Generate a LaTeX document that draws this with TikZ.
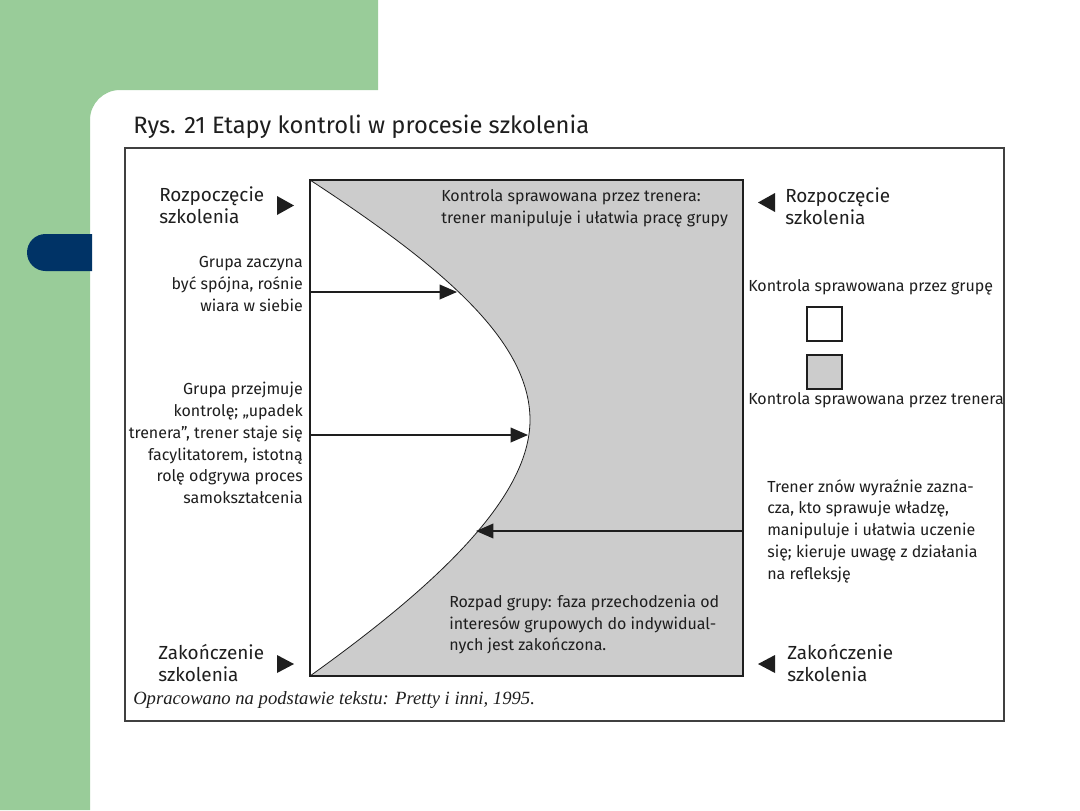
\documentclass[tikz,border=0pt]{standalone}
\usepackage{fontspec}
\setmainfont{Fira Sans}
\newfontfamily\footfont{Liberation Serif}
\usetikzlibrary{arrows.meta}
\definecolor{bggreen}{RGB}{153,204,153}
\definecolor{navy}{RGB}{0,51,102}
\definecolor{greyfill}{RGB}{204,204,204}
\definecolor{ink}{RGB}{30,30,30}
\begin{document}
\begin{tikzpicture}[x=0.75pt,y=-0.75pt,
  lbl/.style={inner sep=0pt, text=ink},
  big/.style={lbl, align=left, font={\fontsize{14.2}{16.5}\selectfont}},
  small/.style={lbl, font={\fontsize{12}{16.3}\selectfont}},
  arr/.style={ink, line width=1.1pt, -{Triangle[length=13pt,width=11pt]}},
  tri/.style={fill=ink, draw=none}]
\useasboundingbox (0,0) rectangle (1080,810);
\fill[white] (0,0) rectangle (1080,810);
% background decoration
\fill[bggreen] (0,0) -- (378,0) -- (378,90) -- (120,90) arc[start angle=-90,end angle=-180,radius=30] -- (90,810) -- (0,810) -- cycle;
\fill[navy] (92,234) -- (45.5,234) arc[start angle=-90,end angle=-270,radius=18.5] -- (92,271) -- cycle;
% title
\node[lbl, anchor=base west, font={\fontsize{17.8}{20}\selectfont}] (title) at (133,133) {Rys. 21 Etapy kontroli w procesie szkolenia};
% frame
\draw[ink!85, line width=1.5pt] (125,148) rectangle (1004,721);
% inner diagram
\fill[greyfill] (310,180) rectangle (743,676);
\fill[white] (310,180) .. controls (440,265) and (530,340) .. (530,420) .. controls (530,500) and (430,590) .. (310,676) -- cycle;
\draw[ink, line width=0.6pt] (310,180) .. controls (440,265) and (530,340) .. (530,420) .. controls (530,500) and (430,590) .. (310,676);
\draw[ink, line width=1.1pt] (310,180) rectangle (743,676);
% coordinates
\coordinate (a1) at (310,292);
\coordinate (c1) at (457,292);
\coordinate (a2) at (310,435);
\coordinate (c2) at (528,435);
\coordinate (a3) at (743,531);
\coordinate (c3) at (476,531);
\draw[arr] (a1) -- (c1);
\draw[arr] (a2) -- (c2);
\draw[arr] (a3) -- (c3);
% marker triangles
\fill[tri] (277,196) -- (294,205.5) -- (277,215) -- cycle;
\fill[tri] (775,193) -- (758,202.5) -- (775,212) -- cycle;
\fill[tri] (277,655) -- (294,664) -- (277,673) -- cycle;
\fill[tri] (775,655) -- (758,664) -- (775,673) -- cycle;
% labels
\node[big, anchor=west] (startL) at (159,205) {Rozpoczęcie\\szkolenia};
\node[big, anchor=west] (startR) at (785,206.5) {Rozpoczęcie\\szkolenia};
\node[big, anchor=west] (endL) at (158,663) {Zakończenie\\szkolenia};
\node[big, anchor=west] (endR) at (787,663.5) {Zakończenie\\szkolenia};
\node[small, anchor=west, align=left] (trainer) at (441,208.5) {Kontrola sprawowana przez trenera:\\trener manipuluje i ułatwia pracę grupy};
\node[small, anchor=east, align=right] (g1) at (303,284) {Grupa zaczyna\\być spójna, rośnie\\wiara w siebie};
\node[small, anchor=east, align=right] (g2) at (303,443) {Grupa przejmuje\\kontrolę; „upadek\\trenera”, trener staje się\\facylitatorem, istotną\\rolę odgrywa proces\\samokształcenia};
\node[small, anchor=west, align=left] (t3) at (767,531) {Trener znów wyraźnie zazna-\\cza, kto sprawuje władzę,\\manipuluje i ułatwia uczenie\\się; kieruje uwagę z działania\\na refleksję};
\node[small, anchor=west, align=left] (rozpad) at (449,624.5) {Rozpad grupy: faza przechodzenia od\\interesów grupowych do indywidual-\\nych jest zakończona.};
% legend
\node[small, anchor=base west] (legG) at (748,291) {Kontrola sprawowana przez grupę};
\draw[ink, line width=1pt] (807,307) rectangle (842,341);
\filldraw[fill=greyfill, draw=ink, line width=1pt] (807,355) rectangle (842,389);
\node[small, anchor=base west] (legT) at (748,404) {Kontrola sprawowana przez trenera};
% footer
\node[lbl, anchor=base west, font={\footfont\itshape\fontsize{14}{16}\selectfont}] (src) at (133,704) {Opracowano na podstawie tekstu: Pretty i inni, 1995.};
\end{tikzpicture}
\end{document}
